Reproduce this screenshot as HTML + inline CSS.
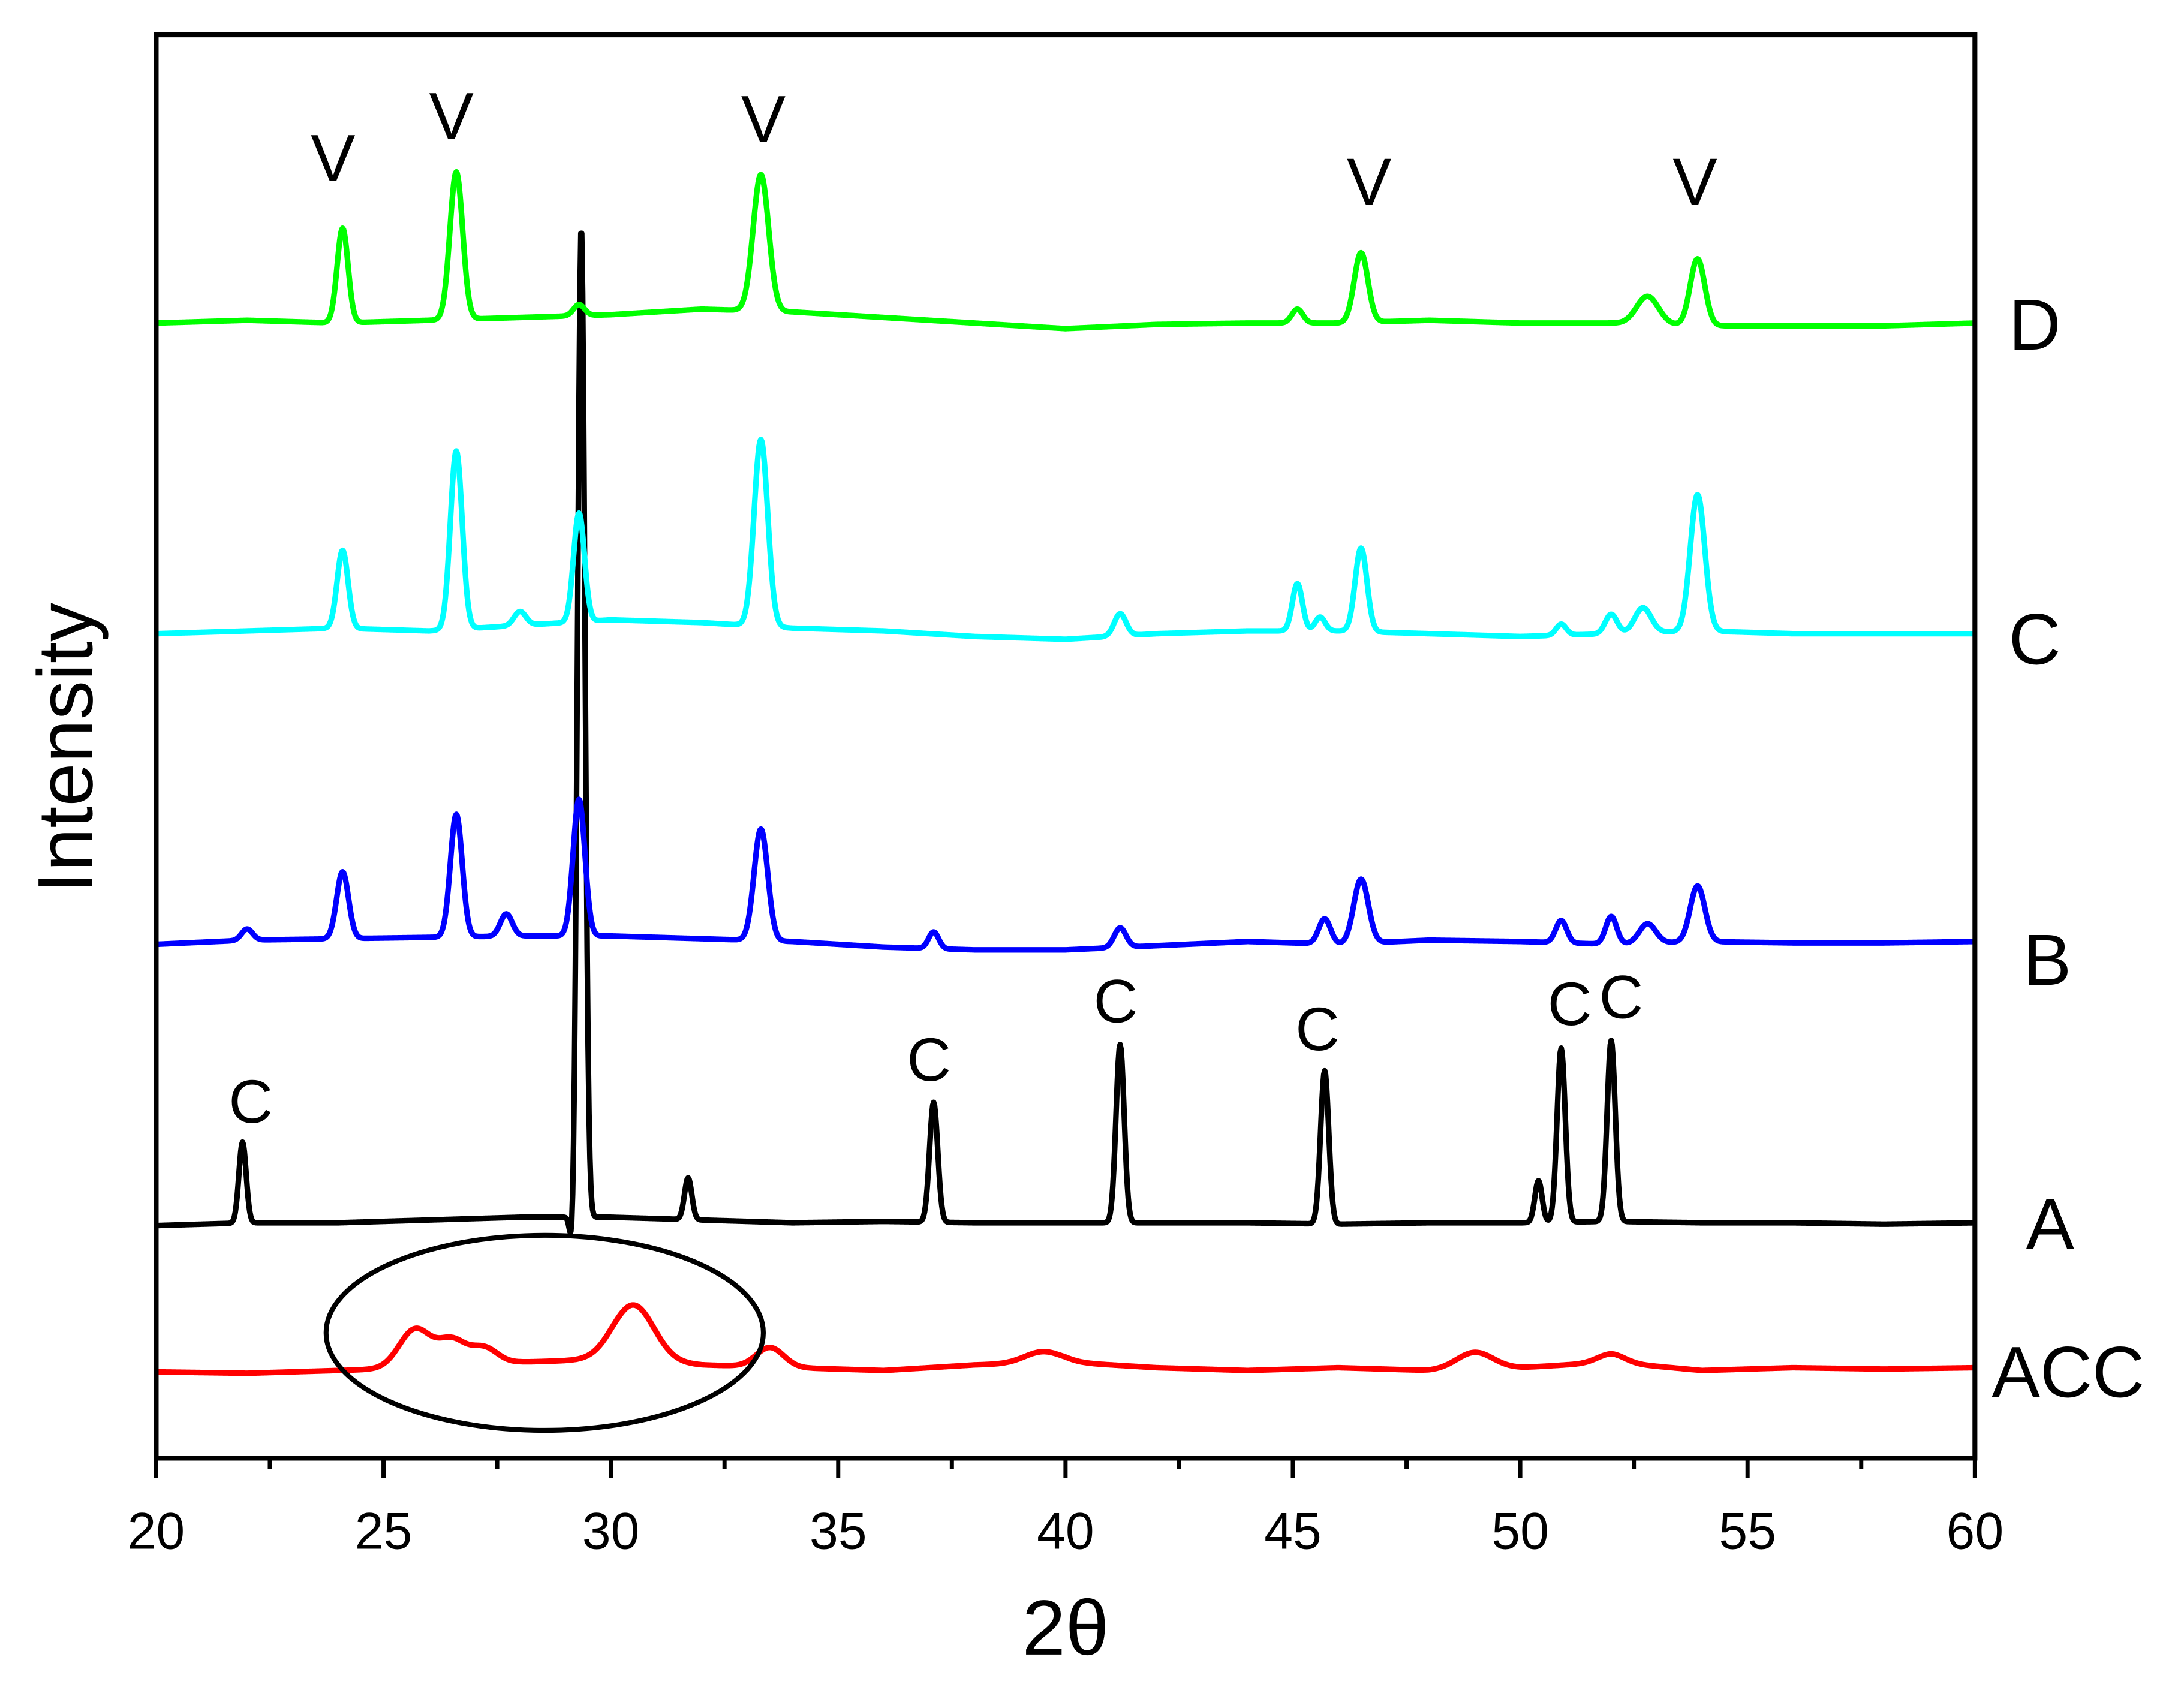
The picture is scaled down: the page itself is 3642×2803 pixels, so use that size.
<!DOCTYPE html>
<html><head><meta charset="utf-8"><style>
html,body{margin:0;padding:0;background:#fff}
svg{display:block}
text{font-family:"Liberation Sans",sans-serif;fill:#000}
</style></head><body>
<svg id="chart" width="3642" height="2803" viewBox="0 0 1568 1207" xmlns="http://www.w3.org/2000/svg">
<rect x="0" y="0" width="1568" height="1207" fill="#fff"/>
<g id="series"></g>
<ellipse cx="391" cy="957" rx="157" ry="70" fill="none" stroke="#000" stroke-width="3.5"/>
<rect x="112" y="25" width="1306" height="1022" fill="none" stroke="#000" stroke-width="3.5"/>
<g id="xticks"></g>
<text x="765" y="1188" font-size="56" text-anchor="middle">2θ</text>
<text transform="translate(66,537) rotate(-90)" font-size="56" text-anchor="middle">Intensity</text>
<g font-size="48" text-anchor="middle">
<text x="239" y="130">V</text>
<text x="324" y="100">V</text>
<text x="548" y="102">V</text>
<text x="983" y="147">V</text>
<text x="1217" y="147">V</text>
<text x="180" y="806" font-size="44">C</text>
<text x="667" y="776" font-size="44">C</text>
<text x="801" y="734" font-size="44">C</text>
<text x="946" y="754" font-size="44">C</text>
<text x="1127" y="736" font-size="44">C</text>
<text x="1164" y="731" font-size="44">C</text>
</g>
<g font-size="52" text-anchor="middle">
<text x="1461" y="251">D</text>
<text x="1461" y="477">C</text>
<text x="1470" y="707">B</text>
<text x="1472" y="897">A</text>
<text x="1485" y="1003">ACC</text>
</g>
</svg>
<script>
// ---- data ----
const xTicks = [20,25,30,35,40,45,50,55,60];
const seriesNames = ["ACC","A","B","C","D"];
const seriesColors = ["#ff0000","#000000","#0000ff","#00ffff","#00ff00"];
const baseOffsets = [988, 880, 678, 455, 232];
// baseline knots every 2 deg (20..60), intensity above offset
const baseACC = [3,2,4,6,10,12,8,6,4,8,10,6,4,6,4,6,10,4,6,5,6];
const baseA   = [0,2,2,4,6,6,4,2,3,2,2,2,2,1,2,2,3,2,2,1,2];
const baseB   = [0,3,4,5,6,6,4,2,-2,-4,-4,-1,2,0,3,2,0,2,1,1,2];
const baseC   = [0,2,4,2,6,10,8,4,2,-2,-4,0,2,2,0,-2,0,2,0,0,0];
const baseD   = [0,2,0,2,4,6,10,8,4,0,-4,-1,0,0,2,0,0,-2,-2,-2,0];
// peaks: positions, heights, widths (deg)
const posACC = [25.7,26.5,27.2,30.5,33.5,39.5,49.0,52.0];
const hACC   = [28,18,12,40,14,8,12,6];
const wACC   = [0.35,0.3,0.3,0.45,0.3,0.4,0.4,0.3];
const posA = [21.9,29.15,29.35,31.7,37.1,41.2,45.7,50.4,50.9,52.0];
const hA   = [58,-26,712,30,86,128,110,30,125,130];
const wA   = [0.08,0.05,0.08,0.08,0.09,0.09,0.09,0.08,0.09,0.09];
const posB = [22.0,24.1,26.6,27.7,29.3,33.3,37.1,41.2,45.7,46.5,50.9,52.0,52.8,53.9];
const hB   = [8,48,88,16,98,80,12,14,18,46,16,20,14,40];
const wB   = [0.12,0.13,0.13,0.13,0.13,0.15,0.11,0.13,0.13,0.16,0.12,0.12,0.18,0.16];
const posC = [24.1,26.6,28.0,29.3,33.3,41.2,45.1,45.6,46.5,50.9,52.0,52.7,53.9];
const hC   = [56,128,10,78,134,16,34,10,60,8,14,18,98];
const wC   = [0.12,0.13,0.13,0.12,0.15,0.13,0.11,0.11,0.13,0.11,0.13,0.18,0.16];
const posD = [24.1,26.6,29.3,33.3,45.1,46.5,52.8,53.9];
const hD   = [68,106,8,98,10,50,20,48];
const wD   = [0.12,0.14,0.12,0.17,0.12,0.15,0.24,0.16];

const allBase = [baseACC,baseA,baseB,baseC,baseD];
const allPos = [posACC,posA,posB,posC,posD];
const allH = [hACC,hA,hB,hC,hD];
const allW = [wACC,wA,wB,wC,wD];

// ---- axes ----
const X0=112, X1=1418, XMIN=20, XMAX=60;
function xs(v){return X0+(v-XMIN)/(XMAX-XMIN)*(X1-X0);}
function ys(off,val){return off-val;}
const NS="http://www.w3.org/2000/svg";
const tg=document.getElementById('xticks');
for(let v=20; v<=60; v+=2.5){
  const major = (v%5===0);
  const l=document.createElementNS(NS,'line');
  
  
  l.setAttribute('x1',xs(v));l.setAttribute('x2',xs(v));
  l.setAttribute('y1',1047);l.setAttribute('y2',1047+(major?14:8));
  l.setAttribute('stroke','#000');l.setAttribute('stroke-width','3');
  tg.appendChild(l);
}
xTicks.forEach(v=>{
  const t=document.createElementNS(NS,'text');
  
  
  t.setAttribute('x',xs(v));t.setAttribute('y',1112);
  t.setAttribute('font-size','37');t.setAttribute('text-anchor','middle');
  t.textContent=v;tg.appendChild(t);
});

// ---- series ----
const sg=document.getElementById('series');
function baseAt(b,x){const f=(x-20)/2;const i=Math.min(Math.floor(f),b.length-2);const t=f-i;return b[i]*(1-t)+b[i+1]*t;}
for(let s=0;s<seriesNames.length;s++){
  let d="";
  for(let x=20;x<=60.0001;x+=0.02){
    let v=baseAt(allBase[s],x);
    const P=allPos[s],H=allH[s],W=allW[s];
    for(let k=0;k<P.length;k++){const z=(x-P[k])/W[k];v+=H[k]*Math.exp(-0.5*z*z);}
    d+=(d?"L":"M")+xs(x).toFixed(2)+","+ys(baseOffsets[s],v).toFixed(2);
  }
  const p=document.createElementNS(NS,'path');
  
  
  p.setAttribute('d',d);p.setAttribute('fill','none');
  p.setAttribute('stroke',seriesColors[s]);p.setAttribute('stroke-width','4');
  p.setAttribute('stroke-linejoin','round');
  sg.appendChild(p);
}
</script>
</body></html>
